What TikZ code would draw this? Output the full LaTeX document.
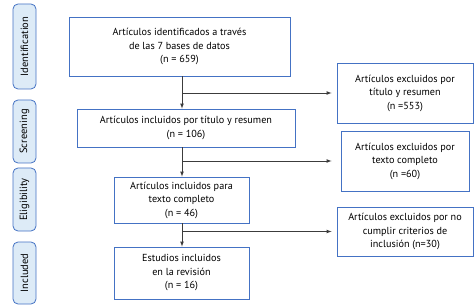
\documentclass[tikz,border=0pt]{standalone}
\usepackage{fontspec}
\setmainfont{PT Sans}
\usepackage{tikz}
\definecolor{boxblue}{RGB}{68, 114, 196}
\definecolor{sidefill}{RGB}{221, 235, 247}
\definecolor{linegray}{RGB}{60, 60, 60}

\begin{document}
\begin{tikzpicture}[
      x=1pt, y=-1pt,
      phase/.style={
          draw=boxblue, thick, rounded corners=5pt,
          fill=sidefill, text=black, rotate=90,
          minimum height=23pt, inner sep=0pt,
          font=\fontsize{10.5}{12}\selectfont
      },
      stage/.style={
          draw=boxblue, line width=0.8pt,
          fill=white, text=black, inner sep=0pt,
          align=center, font=\fontsize{10.2}{13.5}\selectfont
      },
      line/.style={
          draw=linegray, line width=0.7pt, -latex
      }
  ]
      \useasboundingbox (0,0) rectangle (476,307);

      % Phases
      \node[phase, minimum width=85pt] (ident) at (24.5, 46.5) {Identification};
      \node[phase, minimum width=63pt] (screen) at (24.5, 131.5) {Screening};
      \node[phase, minimum width=63pt] (elig) at (24.5, 199.5) {Eligibility};
      \node[phase, minimum width=62pt] (incl) at (24.5, 273) {Included};

      % Flujo principal
      \node[stage, minimum width=221pt, minimum height=59pt] (ident-box) at (179.5, 46.5) {
          Art\'iculos identificados a trav\'es\\
          de las 7 bases de datos\\
          (n = 659)
      };
      \node[stage, minimum width=218pt, minimum height=38pt] (screen-box) at (186, 128) {
          Art\'iculos incluidos por t\'itulo y resumen\\
          (n = 106)
      };
      \node[stage, minimum width=135pt, minimum height=46pt] (elig-box) at (181.5, 200) {
          Art\'iculos incluidos para\\
          texto completo\\
          (n = 46)
      };
      \node[stage, minimum width=135pt, minimum height=52pt] (incl-box) at (181.5, 273) {
          Estudios incluidos\\
          en la revisi\'on\\
          (n = 16)
      };

      % Excluidos
      \node[stage, minimum width=136pt, minimum height=60pt] (excl-title) at (405, 93) {
          Art\'iculos excluidos por\\
          t\'itulo y resumen\\
          (n =553)
      };
      \node[stage, minimum width=128pt, minimum height=60pt] (excl-text) at (405, 161) {
          Art\'iculos excluidos por\\
          texto completo\\
          (n =60)
      };
      \node[stage, minimum width=136pt, minimum height=49pt] (excl-crit) at (405, 231.5) {
          Art\'iculos excluidos por no\\
          cumplir criterios de\\
          inclusi\'on (n=30)
      };

      % Lignes de liaison
      \coordinate (spine) at (182, 0);
      \draw[line] (ident-box.south -| spine) -- (screen-box.north -| spine);
      \draw[line] (screen-box.south -| spine) -- (elig-box.north -| spine);
      \draw[line] (elig-box.south -| spine) -- (incl-box.north -| spine);
      \draw[line, shorten >=5pt] (spine |- excl-title.west) -- (excl-title.west);
      \draw[line, shorten >=9pt] (spine |- excl-text.west) -- (excl-text.west);
      \draw[line, shorten >=5pt] (spine |- excl-crit.west) -- (excl-crit.west);
  \end{tikzpicture}
\end{document}
